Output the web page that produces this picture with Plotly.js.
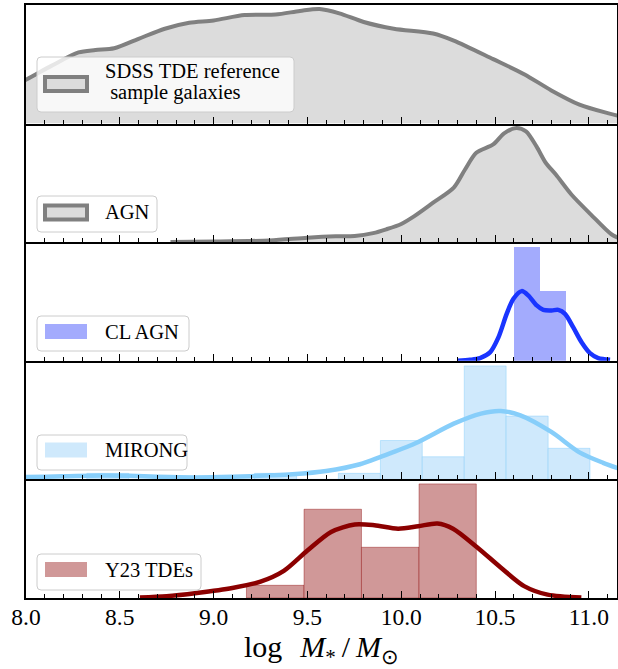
<!DOCTYPE html>
<html>
<head>
<meta charset="utf-8">
<script src="https://cdn.plot.ly/plotly-3.0.1.min.js"></script>
<style>html,body{margin:0;padding:0;background:#fff;}#chart{width:618px;height:669px;}</style>
</head>
<body>
<div id="chart"></div>
<script>
// ---------- data ----------
const panelLabels = ['SDSS TDE reference\n sample galaxies', 'AGN', 'CL AGN', 'MIRONG', 'Y23 TDEs'];
const xTickVals = [8.0, 8.5, 9.0, 9.5, 10.0, 10.5, 11.0];
const xTickText = ['8.0', '8.5', '9.0', '9.5', '10.0', '10.5', '11.0'];
const xAxisTitle = 'log\u2009\u2009\u2009<i>M</i><sub>*</sub>\u2009/\u2009<i>M</i><sub>\u2299</sub>';

// SDSS TDE reference sample galaxies (KDE)
const sdssX = [7.95, 8.0, 8.135, 8.28, 8.37, 8.47, 8.60, 8.74, 8.87, 9.0, 9.165, 9.33, 9.46, 9.565, 9.67, 9.80, 9.96, 10.17, 10.28, 10.49, 10.655, 10.80, 10.95, 11.10, 11.20];
const sdssY = [0.204, 0.222, 0.292, 0.360, 0.372, 0.381, 0.429, 0.480, 0.510, 0.522, 0.549, 0.552, 0.570, 0.580, 0.558, 0.514, 0.480, 0.456, 0.420, 0.326, 0.250, 0.168, 0.096, 0.053, 0.030];

// AGN (KDE)
const agnX = [8.77, 9.0, 9.3, 9.5, 9.65, 9.752, 9.85, 9.92, 10.0, 10.07, 10.17, 10.28, 10.34, 10.40, 10.49, 10.55, 10.614, 10.665, 10.72, 10.77, 10.824, 10.908, 11.01, 11.12, 11.18];
const agnY = [0.005, 0.013, 0.039, 0.10, 0.13, 0.138, 0.20, 0.283, 0.40, 0.572, 0.866, 1.196, 1.594, 1.960, 2.142, 2.392, 2.506, 2.431, 2.106, 1.742, 1.482, 1.040, 0.611, 0.174, 0.06];

// CL AGN (histogram density + KDE)
const clEdges = [10.603, 10.739, 10.876];
const clDens = [4.60, 2.81];
const clKdeX = [10.30, 10.367, 10.42, 10.473, 10.518, 10.562, 10.598, 10.642, 10.678, 10.722, 10.757, 10.802, 10.837, 10.873, 10.917, 10.962, 11.006, 11.05, 11.113];
const clKdeY = [0.0, 0.04, 0.11, 0.34, 0.95, 1.90, 2.51, 2.82, 2.64, 2.24, 2.06, 2.04, 2.06, 1.90, 1.35, 0.74, 0.31, 0.11, 0.04];

// MIRONG (histogram density + KDE)
const mirEdges = [8.324, 8.548, 8.771, 8.995, 9.218, 9.442, 9.665, 9.889, 10.112, 10.336, 10.559, 10.783, 11.006];
const mirDens = [0.094, 0, 0, 0, 0.094, 0, 0.094, 0.607, 0.353, 1.770, 0.988, 0.485];
const mirKdeX = [7.95, 8.0, 8.2, 8.4, 8.55, 8.7, 8.9, 9.1, 9.3, 9.42, 9.6, 9.78, 9.89, 10.07, 10.28, 10.425, 10.53, 10.635, 10.80, 10.95, 11.076, 11.20];
const mirKdeY = [0.034, 0.037, 0.048, 0.061, 0.056, 0.041, 0.031, 0.041, 0.063, 0.080, 0.131, 0.237, 0.352, 0.555, 0.870, 1.027, 1.067, 0.999, 0.740, 0.422, 0.259, 0.130];

// Y23 TDEs (histogram density + KDE)
const y23Edges = [9.175, 9.482, 9.788, 10.095, 10.40];
const y23Dens = [0.155, 1.085, 0.620, 1.395];
const y23KdeX = [8.607, 8.75, 8.91, 9.10, 9.25, 9.374, 9.50, 9.626, 9.752, 9.857, 9.983, 10.09, 10.193, 10.276, 10.404, 10.53, 10.655, 10.78, 10.96];
const y23KdeY = [0.007, 0.022, 0.062, 0.123, 0.199, 0.331, 0.580, 0.808, 0.899, 0.890, 0.848, 0.877, 0.911, 0.848, 0.621, 0.373, 0.145, 0.041, 0.007];

// per-panel y ranges
const yMax = [0.60, 2.60, 4.80, 1.85, 1.45];

// ---------- helpers ----------
function centers(e){ const c=[]; for(let i=0;i<e.length-1;i++) c.push((e[i]+e[i+1])/2); return c; }
function widths(e){ const w=[]; for(let i=0;i<e.length-1;i++) w.push(e[i+1]-e[i]); return w; }

const SERIF = '"Liberation Serif", "Times New Roman", serif';
const traces = [];
// panel 1
traces.push({type:'scatter', mode:'lines', x:sdssX, y:sdssY, xaxis:'x', yaxis:'y', fill:'tozeroy',
  fillcolor:'#dcdcdc', line:{color:'#808080', width:4, shape:'spline', smoothing:0.8}, showlegend:false, hoverinfo:'skip'});
// panel 2
traces.push({type:'scatter', mode:'lines', x:agnX, y:agnY, xaxis:'x2', yaxis:'y2', fill:'tozeroy',
  fillcolor:'#dcdcdc', line:{color:'#808080', width:4, shape:'spline', smoothing:0.8}, showlegend:false, hoverinfo:'skip'});
// panel 3
traces.push({type:'bar', x:centers(clEdges), y:clDens, width:widths(clEdges), xaxis:'x3', yaxis:'y3',
  marker:{color:'#a3abfd', line:{width:0}}, showlegend:false, hoverinfo:'skip'});
traces.push({type:'scatter', mode:'lines', x:clKdeX, y:clKdeY, xaxis:'x3', yaxis:'y3',
  line:{color:'#1a35ff', width:4.5, shape:'spline', smoothing:0.8}, showlegend:false, hoverinfo:'skip'});
// panel 4
traces.push({type:'bar', x:centers(mirEdges), y:mirDens, width:widths(mirEdges), xaxis:'x4', yaxis:'y4',
  marker:{color:'#cfe9fc', line:{width:0.8, color:'rgba(135,206,250,0.6)'}}, showlegend:false, hoverinfo:'skip'});
traces.push({type:'scatter', mode:'lines', x:mirKdeX, y:mirKdeY, xaxis:'x4', yaxis:'y4',
  line:{color:'#87cefa', width:4.5, shape:'spline', smoothing:0.8}, showlegend:false, hoverinfo:'skip'});
// panel 5
traces.push({type:'bar', x:centers(y23Edges), y:y23Dens, width:widths(y23Edges), xaxis:'x5', yaxis:'y5',
  marker:{color:'#d09898', line:{width:0.8, color:'rgba(139,0,0,0.5)'}}, showlegend:false, hoverinfo:'skip'});
traces.push({type:'scatter', mode:'lines', x:y23KdeX, y:y23KdeY, xaxis:'x5', yaxis:'y5',
  line:{color:'#8b0000', width:4.5, shape:'spline', smoothing:0.8}, showlegend:false, hoverinfo:'skip'});

// ---------- layout ----------
const W=618, H=669, L=26, R=617, T=5, B=598;
function px(x){ return (x-L)/(R-L); }
function py(y){ return (B-y)/(B-T); }

const layout = {
  width:W, height:H, margin:{l:L, r:W-R, t:T, b:H-B, pad:0},
  paper_bgcolor:'#fff', plot_bgcolor:'#fff', showlegend:false,
  font:{family:SERIF, color:'#000', size:20},
  barmode:'overlay', bargap:0,
  shapes:[], annotations:[]
};
for(let i=0;i<5;i++){
  const s = i===0 ? '' : String(i+1);
  const top = 1 - i*0.2, bot = 1 - (i+1)*0.2;
  const ax = {
    range:[8.0, 11.15], anchor:'y'+s,
    tickmode:'array', tickvals:xTickVals, ticktext:xTickText,
    ticks:'inside', ticklen:7, tickwidth:1, tickcolor:'#000',
    minor:{dtick:0.1, tick0:8.0, ticks:'inside', ticklen:4, tickwidth:1, tickcolor:'#000', showgrid:false},
    showline:true, linewidth:2, linecolor:'#000', mirror: i===0,
    showgrid:false, zeroline:false, showticklabels: i===4,
    tickfont:{family:SERIF, size:23.5, color:'#000'}, fixedrange:true
  };
  if(i>0) ax.matches = 'x';
  if(i===4) ax.ticklabelstandoff = -3;
  layout['xaxis'+s] = ax;
  layout['yaxis'+s] = {
    domain:[Math.max(0,bot), Math.min(1,top)], anchor:'x'+s, range:[0, yMax[i]],
    showline:true, linewidth:2, linecolor:'#000', mirror:true,
    ticks:'', showticklabels:false, showgrid:false, zeroline:false, fixedrange:true
  };
}
layout.xaxis5.title = {text:xAxisTitle, font:{family:SERIF, size:30, color:'#000'}, standoff:4};

// ---------- legend boxes (matplotlib-style, drawn per panel) ----------
// [left, top, right, bottom] in pixels, symbol centre y
const legBoxes = [[37,57,294,112],[37,196,157,232],[37,316,189,351],[37,435,187,470],[37,554,201,590]];
const legSymY = [84, 212.5, 331.5, 450, 569.5];
const legFill = ['#dcdcdc','#dcdcdc','#a3abfd','#cfe9fc','#d09898'];
function roundRect(x0,y0,x1,y1,r){
  const X0=px(x0), X1=px(x1), Y0=py(y0), Y1=py(y1);
  const rx=r/(R-L), ry=r/(B-T);
  return `M${X0+rx},${Y0} L${X1-rx},${Y0} Q${X1},${Y0} ${X1},${Y0-ry} L${X1},${Y1+ry} Q${X1},${Y1} ${X1-rx},${Y1} L${X0+rx},${Y1} Q${X0},${Y1} ${X0},${Y1+ry} L${X0},${Y0-ry} Q${X0},${Y0} ${X0+rx},${Y0} Z`;
}
for(let i=0;i<5;i++){
  const b = legBoxes[i];
  layout.shapes.push({type:'path', xref:'paper', yref:'paper', path:roundRect(b[0],b[1],b[2],b[3],4),
    fillcolor:'rgba(255,255,255,0.8)', line:{color:'rgba(204,204,204,1)', width:1}, layer:'above'});
  const cy = legSymY[i];
  if(i<2){
    layout.shapes.push({type:'rect', xref:'paper', yref:'paper', x0:px(45), x1:px(87), y0:py(cy-7), y1:py(cy+7),
      fillcolor:legFill[i], line:{color:'#808080', width:4}, layer:'above'});
  } else {
    layout.shapes.push({type:'rect', xref:'paper', yref:'paper', x0:px(45), x1:px(87), y0:py(cy-7.5), y1:py(cy+7.5),
      fillcolor:legFill[i], line:{width:0}, layer:'above'});
  }
  const lines = panelLabels[i].split('\n');
  if(lines.length===1){
    layout.annotations.push({xref:'paper', yref:'paper', x:px(103), y:py(cy), xanchor:'left', yanchor:'middle',
      text:lines[0], showarrow:false, font:{family:SERIF, size:20.5, color:'#000'}});
  } else {
    const ys=[71.3, 92.3];
    lines.forEach((t,k)=>{
      layout.annotations.push({xref:'paper', yref:'paper', x:px(103), y:py(ys[k]), xanchor:'left', yanchor:'middle',
        text:t.replace(/^ /,'\u00a0'), showarrow:false, font:{family:SERIF, size:20.5, color:'#000'}});
    });
  }
}

Plotly.newPlot('chart', traces, layout, {staticPlot:true, displayModeBar:false});
</script>
</body>
</html>
